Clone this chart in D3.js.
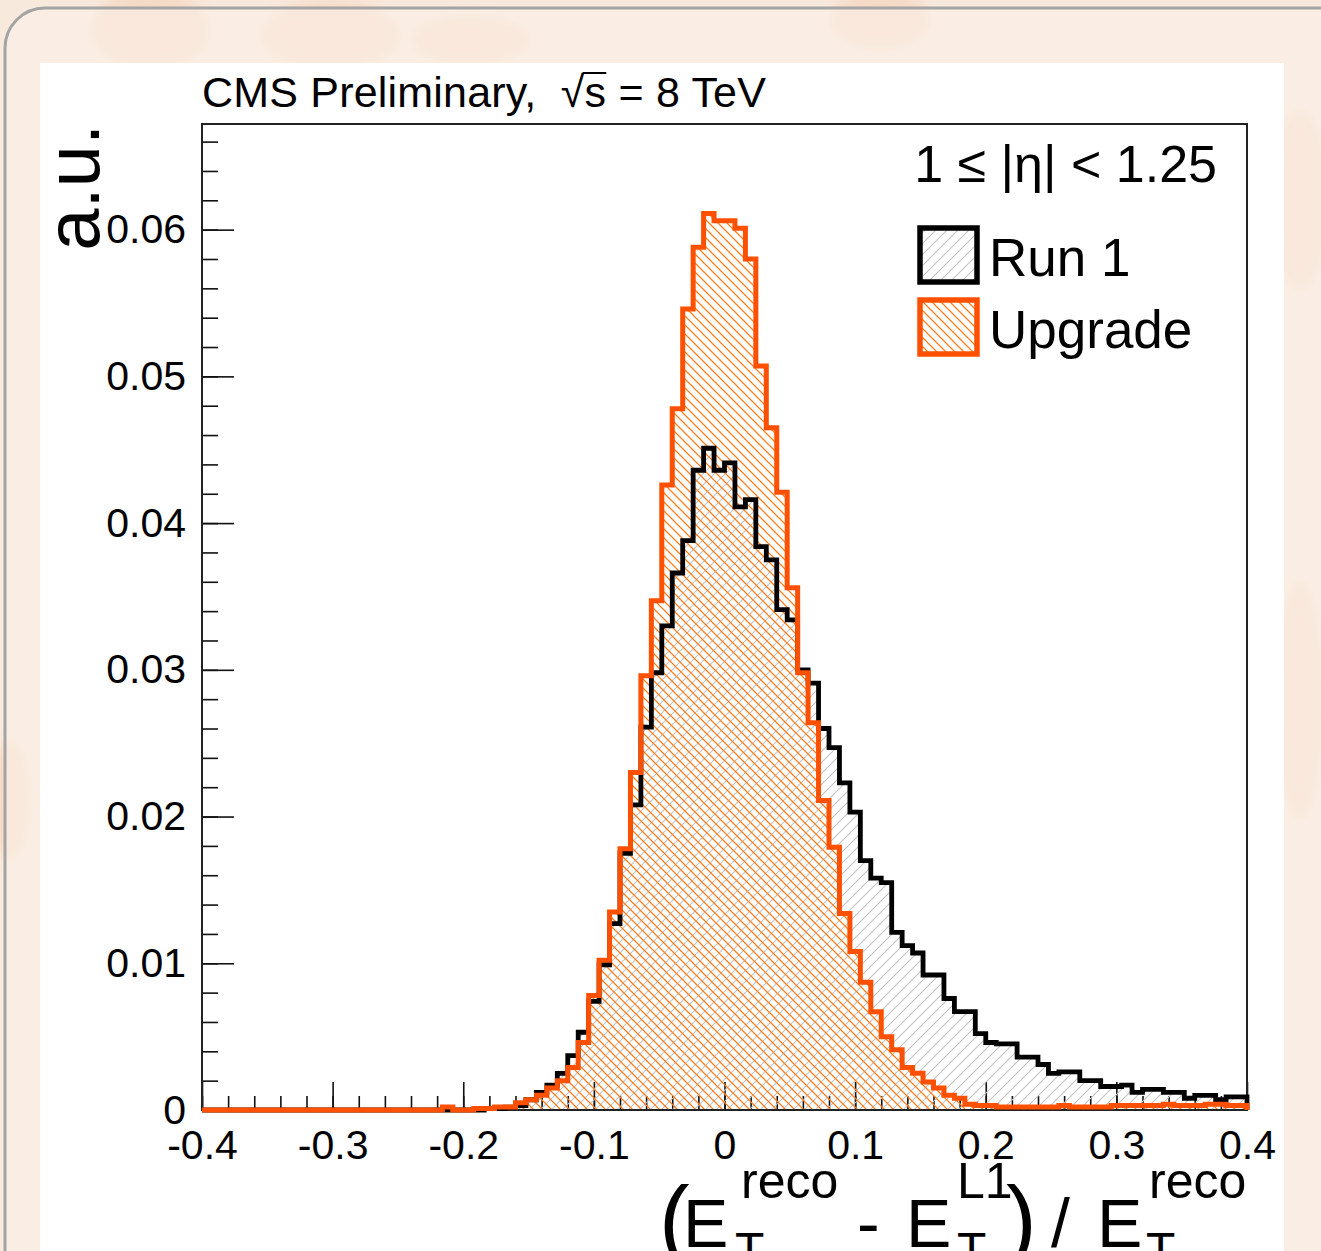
<!DOCTYPE html>
<html lang="en">
<head>
<meta charset="UTF-8">
<title>L1 ET resolution</title>
<script src="https://d3js.org/d3.v7.min.js"></script>
<style>
  html, body { margin: 0; padding: 0; background: #f8e9dd; }
  svg { display: block; }
  text { font-family: "Liberation Sans", Arial, Helvetica, sans-serif; fill: #000; white-space: pre; }
</style>
</head>
<body>
<div class="canvas"></div>
<script>
// histogram: 100 bins of 0.008 between -0.4 and 0.4
const xMin = -0.4;
const xMax = 0.4;
const binWidth = 0.008;

// Run 1 (black outline, grey hatch)
const run1 = [
  0, 0, 0, 0, 0, 0, 0, 0, 0, 0,
  0, 0, 0, 0, 0, 0, 0, 0, 0, 0,
  0, 0, 0, 0, 0, 0, 0, 0.0001, 0.0001, 0.0002,
  0.0003, 0.0007, 0.0012, 0.0017, 0.0025, 0.0037, 0.0053, 0.0074, 0.0099, 0.0127,
  0.0175, 0.0208, 0.0261, 0.0298, 0.0330, 0.0366, 0.0388, 0.0436, 0.0451, 0.0436,
  0.0441, 0.0411, 0.0416, 0.0384, 0.0375, 0.0341, 0.0334, 0.0300, 0.0291, 0.0260,
  0.0247, 0.0223, 0.0203, 0.0170, 0.0158, 0.0155, 0.0121, 0.0112, 0.0107, 0.0092,
  0.0092, 0.0076, 0.0067, 0.0067, 0.0052, 0.0046, 0.0045, 0.0045, 0.0036, 0.0036,
  0.0031, 0.0025, 0.0026, 0.0026, 0.0020, 0.0020, 0.0016, 0.0016, 0.0017, 0.0012,
  0.0014, 0.0014, 0.0012, 0.0012, 0.0008, 0.0010, 0.0010, 0.0007, 0.0009, 0.0009
];

// Upgrade (orange outline, orange hatch)
const upgrade = [
  0, 0, 0, 0, 0, 0, 0, 0, 0, 0,
  0, 0, 0, 0, 0, 0, 0, 0, 0, 0,
  0, 0, 0, 0.0002, 0, 0, 0.0001, 0.0001, 0.0002, 0.0002,
  0.0005, 0.0007, 0.0010, 0.0015, 0.0020, 0.0029, 0.0046, 0.0078, 0.0102, 0.0135,
  0.0178, 0.0230, 0.0296, 0.0347, 0.0426, 0.0478, 0.0546, 0.0588, 0.0611, 0.0606,
  0.0606, 0.0601, 0.0580, 0.0507, 0.0465, 0.0421, 0.0356, 0.0298, 0.0264, 0.0211,
  0.0179, 0.0134, 0.0108, 0.0087, 0.0067, 0.0050, 0.0041, 0.0029, 0.0025, 0.0019,
  0.0015, 0.0010, 0.0008, 0.0004, 0.0003, 0.0003, 0.0002, 0.0002, 0.0002, 0.0002,
  0.0002, 0.0002, 0.0003, 0.0002, 0.0002, 0.0002, 0.0002, 0.0003, 0.0003, 0.0003,
  0.0003, 0.0003, 0.0004, 0.0003, 0.0003, 0.0003, 0.0004, 0.0004, 0.0003, 0.0003
];

const xTickValues = [-0.4, -0.3, -0.2, -0.1, 0, 0.1, 0.2, 0.3, 0.4];
const xTickLabels = ['-0.4', '-0.3', '-0.2', '-0.1', '0', '0.1', '0.2', '0.3', '0.4'];
const yTickValues = [0, 0.01, 0.02, 0.03, 0.04, 0.05, 0.06];
const yTickLabels = ['0', '0.01', '0.02', '0.03', '0.04', '0.05', '0.06'];
const yMax = 0.0672;

const seriesNames = ['Run 1', 'Upgrade'];
const etaLabel = '1 \u2264 |\u03b7| < 1.25';

const width = 1321;
const height = 1251;
const frame = { left: 202, right: 1247, top: 124, bottom: 1110 };
const ORANGE = '#ff5000';

const svg = d3.select('.canvas')
  .append('svg')
  .attr('width', width)
  .attr('height', height);

/*------------------------- slide background -------------------------*/
const defs = svg.append('defs');
defs.append('filter').attr('id', 'blur')
  .append('feGaussianBlur').attr('stdDeviation', 6);

svg.append('rect').attr('width', width).attr('height', height).attr('fill', '#f8e9dd');
const deco = svg.append('g').attr('filter', 'url(#blur)').attr('opacity', 0.22);
[[150, 30, 60, 40], [330, 35, 70, 35], [470, 40, 60, 25], [880, 20, 50, 30],
 [1300, 200, 30, 90], [1300, 700, 25, 120], [10, 800, 20, 60]].forEach(d => {
  deco.append('ellipse')
    .attr('cx', d[0]).attr('cy', d[1]).attr('rx', d[2]).attr('ry', d[3])
    .attr('fill', '#e8a878');
});
svg.append('rect')
  .attr('x', 5).attr('y', 8)
  .attr('width', 1500).attr('height', 1500)
  .attr('rx', 40)
  .attr('fill', '#fcf1ea').attr('fill-opacity', 0.6)
  .attr('stroke', '#a4a4a4').attr('stroke-width', 3);
svg.append('rect')
  .attr('x', 40).attr('y', 63)
  .attr('width', 1244).attr('height', 1200)
  .attr('fill', '#fff');

/*------------------------- hatch patterns -------------------------*/
function hatch(id, size, color, sw, forward) {
  const p = defs.append('pattern')
    .attr('id', id)
    .attr('patternUnits', 'userSpaceOnUse')
    .attr('width', size).attr('height', size);
  const s = size;
  const d = forward
    ? `M0,${s} L${s},0 M${-1},1 L1,${-1} M${s - 1},${s + 1} L${s + 1},${s - 1}`
    : `M0,0 L${s},${s} M${-1},${s - 1} L1,${s + 1} M${s - 1},${-1} L${s + 1},1`;
  p.append('path').attr('d', d).attr('stroke', color).attr('stroke-width', sw).attr('fill', 'none');
}
hatch('hatchRun1', 11, '#c2c2c2', 1.1, true);
hatch('hatchUpgrade', 9, '#ff7f1e', 1.25, false);

/*------------------------- scales & axes -------------------------*/
const x = d3.scaleLinear().domain([xMin, xMax]).range([frame.left, frame.right]);
const y = d3.scaleLinear().domain([0, yMax]).range([frame.bottom, frame.top]);

const xMinor = d3.range(0, 41).map(i => +(xMin + i * 0.02).toFixed(3));
const yMinor = d3.range(0, 34).map(i => +(i * 0.002).toFixed(4));

function styleAxis(g) {
  g.select('.domain').remove();
  g.selectAll('.tick line').attr('stroke', '#111').attr('stroke-width', 1.6);
  g.selectAll('text')
    .attr('fill', '#000')
    .attr('font-family', '"Liberation Sans", Arial, sans-serif')
    .attr('font-size', 41);
}

svg.append('g')
  .attr('transform', `translate(0,${frame.bottom})`)
  .call(d3.axisBottom(x).tickValues(xMinor).tickFormat('').tickSizeInner(-14).tickSizeOuter(0))
  .call(styleAxis);
svg.append('g')
  .attr('transform', `translate(0,${frame.bottom})`)
  .call(d3.axisBottom(x).tickValues(xTickValues)
    .tickFormat((d, i) => xTickLabels[i])
    .tickSizeInner(-28).tickSizeOuter(0).tickPadding(20))
  .call(styleAxis);

svg.append('g')
  .attr('transform', `translate(${frame.left},0)`)
  .call(d3.axisLeft(y).tickValues(yMinor).tickFormat('').tickSizeInner(-16).tickSizeOuter(0))
  .call(styleAxis);
svg.append('g')
  .attr('transform', `translate(${frame.left},0)`)
  .call(d3.axisLeft(y).tickValues(yTickValues)
    .tickFormat((d, i) => yTickLabels[i])
    .tickSizeInner(-32).tickSizeOuter(0).tickPadding(16))
  .call(styleAxis);

/*------------------------- histograms -------------------------*/
function stepPoints(vals) {
  const pts = [[xMin, 0]];
  vals.forEach((v, i) => {
    const lo = xMin + i * binWidth;
    pts.push([lo, v], [lo + binWidth, v]);
  });
  pts.push([xMax, 0]);
  return pts;
}
const step = d3.line().x(d => x(d[0])).y(d => y(d[1]));

const hists = [
  { vals: run1, fill: 'url(#hatchRun1)', stroke: '#000', sw: 4.8 },
  { vals: upgrade, fill: 'url(#hatchUpgrade)', stroke: ORANGE, sw: 5 }
];

svg.append('g').selectAll('path')
  .data(hists).enter()
  .append('path')
  .attr('d', h => step(stepPoints(h.vals)) + 'Z')
  .attr('fill', h => h.fill)
  .attr('stroke', 'none');

// frame
svg.append('rect')
  .attr('x', frame.left).attr('y', frame.top)
  .attr('width', frame.right - frame.left)
  .attr('height', frame.bottom - frame.top)
  .attr('fill', 'none')
  .attr('stroke', '#222').attr('stroke-width', 2);

svg.append('g').selectAll('path')
  .data(hists).enter()
  .append('path')
  .attr('d', h => step(stepPoints(h.vals)))
  .attr('fill', 'none')
  .attr('stroke', h => h.stroke)
  .attr('stroke-width', h => h.sw)
  .attr('stroke-linejoin', 'miter');

/*------------------------- texts -------------------------*/
const title = svg.append('text')
  .attr('x', 202).attr('y', 107)
  .attr('font-size', 43)
  .attr('letter-spacing', 0.2)
  .attr('xml:space', 'preserve');
const pre = 'CMS Preliminary,  ';
title.append('tspan').text(pre + '\u221a');
title.append('tspan').text('s');
title.append('tspan').text(' = 8 TeV');
const tn = title.node();
const sqEnd = tn.getEndPositionOfChar(pre.length);
const sEnd = tn.getEndPositionOfChar(pre.length + 1);
svg.append('line')
  .attr('x1', sqEnd.x - 2).attr('x2', sEnd.x)
  .attr('y1', 73).attr('y2', 73)
  .attr('stroke', '#000').attr('stroke-width', 2);

svg.append('text')
  .attr('transform', 'translate(99,124) rotate(-90)')
  .attr('text-anchor', 'end')
  .attr('font-size', 76)
  .text('a.u.');

svg.append('text')
  .attr('x', 1217).attr('y', 182)
  .attr('text-anchor', 'end')
  .attr('font-size', 52)
  .attr('xml:space', 'preserve')
  .text(etaLabel);

// legend
const legend = svg.append('g');
hists.forEach((h, i) => {
  const ly = 228 + i * 72;
  legend.append('rect')
    .attr('x', 920).attr('y', ly)
    .attr('width', 57).attr('height', 54)
    .attr('fill', h.fill)
    .attr('stroke', h.stroke).attr('stroke-width', 5.5);
  legend.append('text')
    .attr('x', 989).attr('y', ly + 48)
    .attr('font-size', 53)
    .text(seriesNames[i]);
});

// x axis title  (E_T^reco - E_T^L1) / E_T^reco
const xt = svg.append('g');
function piece(t, px, py, fs) {
  xt.append('text').attr('x', px).attr('y', py).attr('font-size', fs).attr('xml:space', 'preserve').text(t);
}
const base = 1247, supY = 1198, subY = 1266;
piece('(', 659, base + 4, 92);
piece('E', 683, base, 68);
piece('reco', 741, supY, 50);
piece('T', 735, subY, 48);
piece('-', 857, base, 68);
piece('E', 906, base, 68);
piece('L1', 957, supY, 50);
piece('T', 957, subY, 48);
piece(')', 1006, base + 4, 92);
piece('/', 1051, base, 68);
piece('E', 1097, base, 68);
piece('reco', 1149, supY, 50);
piece('T', 1146, subY, 48);
</script>
</body>
</html>
